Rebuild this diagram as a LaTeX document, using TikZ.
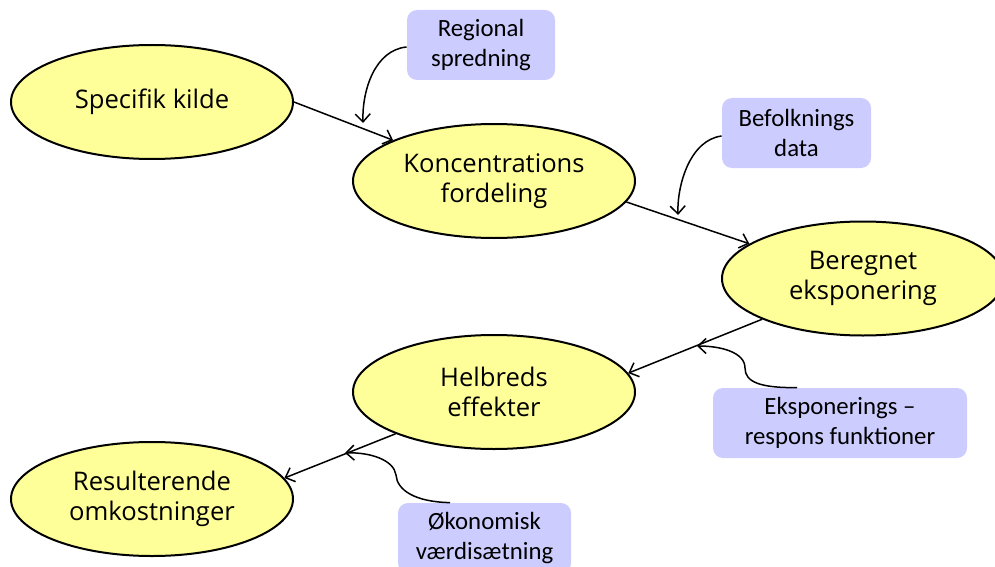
\documentclass[tikz,border=0pt]{standalone}
\usepackage{fontspec}
\setmainfont{Carlito}
\newfontfamily\stagefont{Open Sans}
\usetikzlibrary{shapes.geometric,arrows.meta}

\begin{document}
\begin{tikzpicture}[x=0.5pt,y=-0.5pt,
                    stage/.style={ellipse,draw=black,line width=1pt,fill=stageyellow,
                                  minimum width=141pt,minimum height=57pt,inner sep=0pt,
                                  align=center,font=\stagefont\fontsize{12.8}{15}\selectfont},
                    input/.style={rectangle,rounded corners=5pt,fill=inputblue,
                                  minimum height=35pt,inner sep=0pt,
                                  align=center,font=\fontsize{12.4}{15}\selectfont},
                    flow/.style={-{Straight Barb[length=4pt,width=7.5pt]},line width=0.75pt,black}
                ]
                \definecolor{stageyellow}{RGB}{255,255,153}
                \definecolor{inputblue}{RGB}{204,204,255}
                \useasboundingbox (0,0) rectangle (995,567);
                % stages
                \node[stage] (kilde) at (152,102) {Specifik kilde};
                \node[stage] (konc) at (494,181) {Koncentrations\\fordeling};
                \node[stage] (ekspo) at (863,278.5) {Beregnet\\eksponering};
                \node[stage] (helbred) at (494,392) {Helbreds\\effekter};
                \node[stage] (omk) at (152,499) {Resulterende\\omkostninger};
                % inputs
                \node[input,minimum width=74pt] (regional) at (481,45) {Regional\\spredning};
                \node[input,minimum width=74.5pt] (befolk) at (796.5,133) {Befolknings\\data};
                \node[input,minimum width=127pt] (respons) at (840,423) {Eksponerings --\\respons funktioner};
                \node[input,minimum width=86.5pt] (oekon) at (484.5,538) {Økonomisk\\værdisætning};
                % main chain
                \draw[flow] (kilde.east) -- (konc.158);
                \draw[flow] (konc.-9.4) -- (ekspo.163.8);
                \draw[flow] (ekspo.202.8) -- (helbred.8.5);
                \draw[flow] (helbred.203) -- (omk.9.5);
                % inputs onto the chain
                \coordinate (regionalT) at (363,123);
                \coordinate (befolkT) at (678,215);
                \coordinate (responsT) at (697,346);
                \coordinate (oekonT) at (345,453);
                \draw[flow] (regional.west |- 0,47) .. controls (375,50) and (362,90) .. (regionalT);
                \draw[flow] (befolk.west |- 0,136) .. controls (690,140) and (677,185) .. (befolkT);
                \draw[flow] (respons.north -| 797,0) .. controls (760,388) and (745,382) .. (745,368)
                            .. controls (745,352) and (720,346) .. (responsT);
                \draw[flow] (oekon.north -| 450,0) .. controls (415,502) and (397,490) .. (396,475)
                            .. controls (394,460) and (370,452) .. (oekonT);
\end{tikzpicture}
\end{document}
